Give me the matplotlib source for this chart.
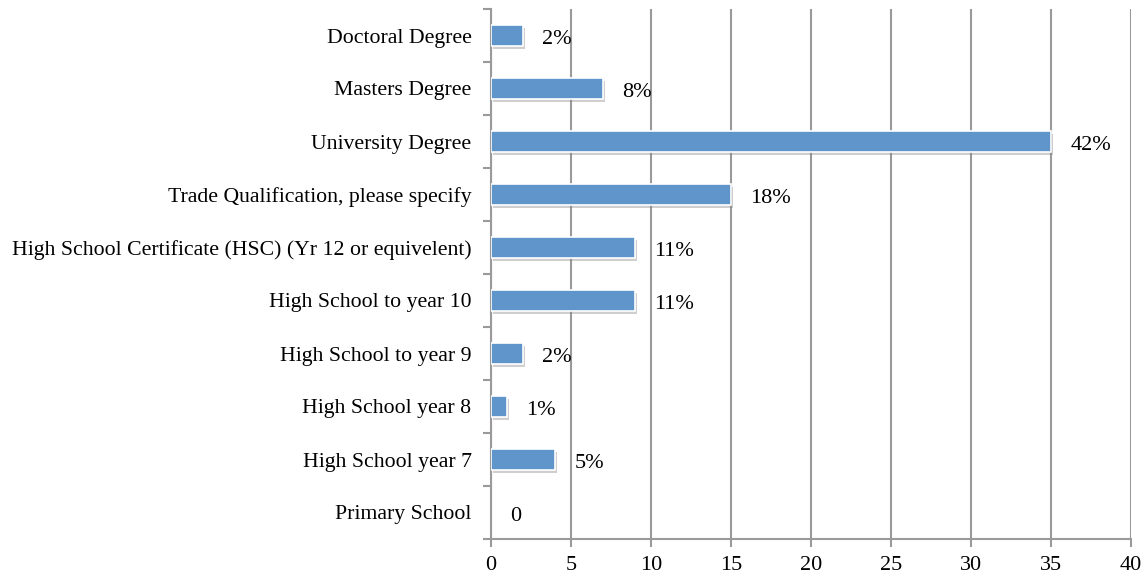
import matplotlib
matplotlib.use("Agg")
import matplotlib.pyplot as plt
import matplotlib.patheffects as pe
import numpy as np

categories = [
    "Doctoral Degree",
    "Masters Degree",
    "University Degree",
    "Trade Qualification, please specify",
    "High School Certificate (HSC) (Yr 12 or equivelent)",
    "High School to year 10",
    "High School to year 9",
    "High School year 8",
    "High School year 7",
    "Primary School",
]
counts = [2, 7, 35, 15, 9, 9, 2, 1, 4, 0]
labels = ["2%", "8%", "42%", "18%", "11%", "11%", "2%", "1%", "5%", "0"]
x_ticks = [0, 5, 10, 15, 20, 25, 30, 35, 40]

plt.rcParams["font.family"] = ["Liberation Serif", "DejaVu Serif"]

fig = plt.figure(figsize=(11.47, 5.77), dpi=100)
ax = fig.add_axes([491 / 1147, (577 - 539) / 577, 640 / 1147, 530 / 577])

y = np.arange(len(categories))[::-1]
bars = ax.barh(y, counts, height=0.4, color="#5f95cb", edgecolor="white",
               linewidth=1.2, zorder=3)
for b, v in zip(bars, counts):
    if v == 0:
        # empty category: nothing to outline or shade
        b.set_linewidth(0)
        continue
    b.set_path_effects([pe.SimplePatchShadow(offset=(1.5, -2), shadow_rgbFace="#888888", alpha=0.4),
                        pe.Normal()])

for yi, v, lab in zip(y, counts, labels):
    ax.annotate(lab, (v, yi), xytext=(14, -1), textcoords="offset points",
                ha="left", va="center_baseline", fontsize=16, color="black", zorder=4)

ax.set_xlim(0, 40)
ax.set_ylim(-0.5, len(categories) - 0.5)
ax.set_xticks(x_ticks)
ax.set_xticklabels([str(t) for t in x_ticks], fontsize=16)
ax.set_yticks(y)
ax.set_yticklabels(categories, fontsize=15.7)
ax.set_yticks(np.arange(-0.5, len(categories), 1.0), minor=True)

ax.tick_params(axis="y", which="major", length=0, pad=14)
ax.tick_params(axis="y", which="minor", length=6, width=1.5, color="#9a9a9a", direction="out")
ax.tick_params(axis="x", which="major", length=6, width=1.5, color="#9a9a9a", direction="out", pad=6)

ax.grid(axis="x", color="#9a9a9a", linewidth=1.5, zorder=0)
for s in ["top", "right"]:
    ax.spines[s].set_visible(False)
for s in ["left", "bottom"]:
    ax.spines[s].set_color("#9a9a9a")
    ax.spines[s].set_linewidth(1.5)

fig.savefig("out.png", dpi=100)
